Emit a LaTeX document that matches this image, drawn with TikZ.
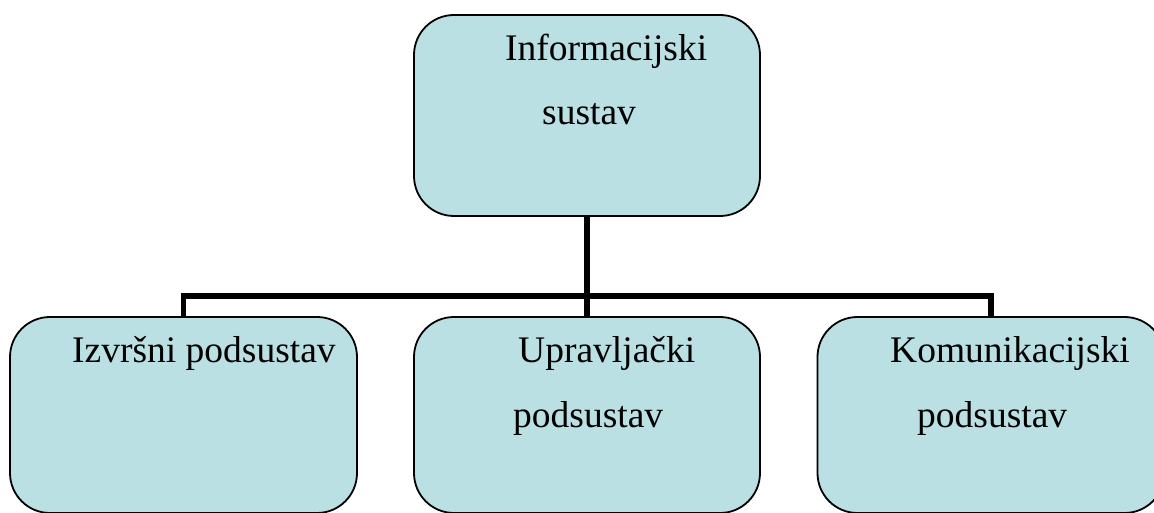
\documentclass[tikz,border=0pt]{standalone}
\usepackage{fontspec}
\setmainfont{Liberation Serif}
\definecolor{boxfill}{RGB}{187,224,227}
\begin{document}
\begin{tikzpicture}[x=1pt,y=-1pt,
  box/.style={draw=black, line width=1.8pt, fill=boxfill, rounded corners=40pt, inner sep=0pt},
  conn/.style={draw=black, line width=5.5pt},
  lbl/.style={anchor=base west, inner sep=0pt, font=\fontsize{37.5}{45}\selectfont}]
\useasboundingbox (0,0) rectangle (1154,513);
\clip (0,0) rectangle (1154,513);
\node[box, minimum width=346pt, minimum height=201pt] (top) at (587,115.5) {};
\node[box, minimum width=347pt, minimum height=196pt] (left) at (183.5,415) {};
\node[box, minimum width=346pt, minimum height=196pt] (mid) at (587,415) {};
\node[box, minimum width=347pt, minimum height=196pt] (right) at (991,415) {};
\coordinate (j) at (587,296);
\draw[conn] (top.south) -- (j);
\draw[conn] (left.north) |- (j) -| (right.north);
\draw[conn] (j) -- (mid.north);
\node[lbl] (t1) at (505,61) {Informacijski};
\node[lbl] (t2) at (542,125) {sustav};
\node[lbl] (l1) at (72,362) {Izvršni podsustav};
\node[lbl] (m1) at (518,362) {Upravljački};
\node[lbl] (m2) at (513,427) {podsustav};
\node[lbl] (r1) at (890,362) {Komunikacijski};
\node[lbl] (r2) at (917,427) {podsustav};
\end{tikzpicture}
\end{document}
